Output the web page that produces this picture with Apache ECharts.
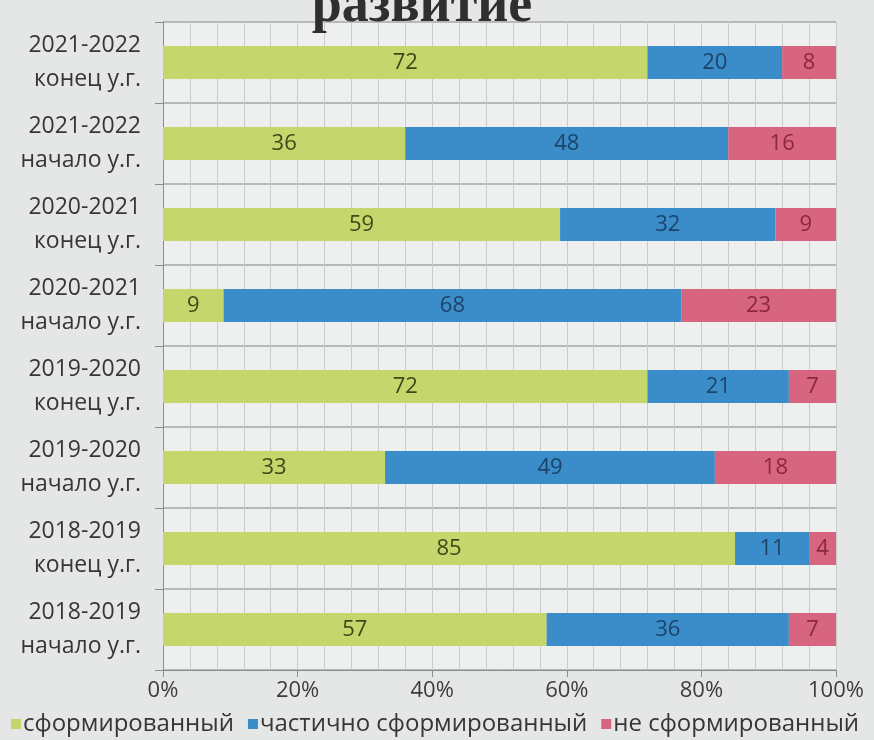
<!DOCTYPE html>
<html>
<head>
<meta charset="utf-8">
<script src="https://cdn.jsdelivr.net/npm/echarts@6/dist/echarts.min.js"></script>
<style>
html,body{margin:0;padding:0;background:#e5e7e6;}
#c{width:874px;height:740px;}
</style>
</head>
<body>
<div id="c"></div>
<script>
const categories = [
  "2021-2022\nконец у.г.",
  "2021-2022\nначало у.г.",
  "2020-2021\nконец у.г.",
  "2020-2021\nначало у.г.",
  "2019-2020\nконец у.г.",
  "2019-2020\nначало у.г.",
  "2018-2019\nконец у.г.",
  "2018-2019\nначало у.г."
];
const formed = [72, 36, 59, 9, 72, 33, 85, 57];
const partly = [20, 48, 32, 68, 21, 49, 11, 36];
const notFormed = [8, 16, 9, 23, 7, 18, 4, 7];
const seriesNames = ["сформированный", "частично сформированный", "не сформированный"];
const xTicks = [0, 20, 40, 60, 80, 100];

const FONT = "'Open Sans','Noto Sans',sans-serif";
const chart = echarts.init(document.getElementById('c'));
function bar(name, data, color, labelColor) {
  return {
    name: name, type: 'bar', stack: 'all', data: data,
    barWidth: 33, yAxisIndex: 0,
    itemStyle: { color: color },
    label: { show: true, position: 'inside', color: labelColor, fontSize: 22, fontFamily: FONT }
  };
}
chart.setOption({
  backgroundColor: '#e5e7e6',
  animation: false,
  title: {
    text: 'развитие"', left: 'center', top: -25,
    textStyle: { fontFamily: "'Liberation Serif','DejaVu Serif',serif", fontWeight: 'bold', fontSize: 54, color: '#2f2f2f' }
  },
  legend: {
    left: 6, top: 707, icon: 'rect', itemWidth: 10, itemHeight: 10, itemGap: 14,
    textStyle: { fontSize: 24, color: '#363636', fontFamily: FONT, padding: [0, 0, 0, -3] },
    data: seriesNames
  },
  grid: { left: 163, right: 38, top: 22, bottom: 70, show: true, backgroundColor: '#eef0ef', borderWidth: 0 },
  xAxis: {
    type: 'value', min: xTicks[0], max: xTicks[xTicks.length - 1], interval: 20,
    axisLine: { show: true, lineStyle: { color: '#8a8d8c' } },
    axisTick: { show: true, length: 7, lineStyle: { color: '#8a8d8c' } },
    axisLabel: { formatter: '{value}%', fontSize: 22, color: '#3c3c3c', fontFamily: FONT, margin: 10 },
    splitLine: { show: true, lineStyle: { color: '#c9cccb' } },
    minorTick: { show: false, splitNumber: 5 },
    minorSplitLine: { show: true, lineStyle: { color: '#c9cccb' } }
  },
  yAxis: [
    {
      type: 'category', data: categories, inverse: true,
      axisLine: { show: true, lineStyle: { color: '#8a8d8c' } },
      axisTick: { show: true, length: 8, lineStyle: { color: '#8a8d8c' } },
      axisLabel: { fontSize: 23, color: '#363636', fontFamily: FONT, lineHeight: 34, margin: 22, align: 'right' },
      splitLine: { show: false }
    },
    {
      type: 'value', min: 0, max: 24, interval: 3, position: 'right',
      axisLine: { show: false }, axisTick: { show: false }, axisLabel: { show: false },
      splitLine: { show: true, lineStyle: { color: '#a4a8a7', width: 1.5 } },
      minorTick: { show: false, splitNumber: 3 },
      minorSplitLine: { show: true, lineStyle: { color: '#cdd0cf' } }
    }
  ],
  series: [
    bar(seriesNames[0], formed, '#c4d66c', '#3d4a17'),
    bar(seriesNames[1], partly, '#3a8dc8', '#1d4468'),
    bar(seriesNames[2], notFormed, '#d8657f', '#8a2742')
  ]
});
</script>
</body>
</html>
